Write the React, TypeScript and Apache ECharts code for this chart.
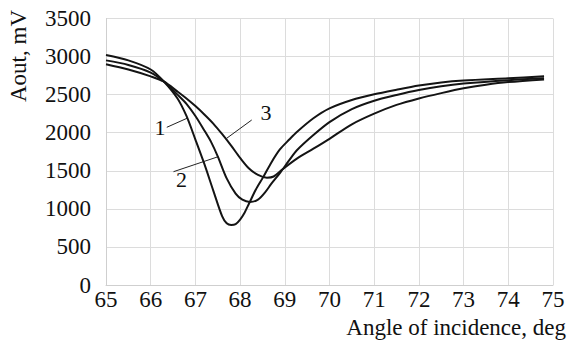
import React, { useEffect, useRef } from "react";
import * as echarts from "echarts";

// Angle of incidence (deg) and output signal (mV) for each curve
const angles1 = [65.0, 65.5, 66.0, 66.3, 66.6, 66.8, 67.0, 67.2, 67.4, 67.6, 67.7, 67.8, 67.9, 68.0, 68.1, 68.2, 68.35, 68.52, 68.7, 68.89, 69.1, 69.27, 69.64, 70.0, 70.5, 71.0, 71.5, 72.0, 72.5, 73.0, 74.0, 74.8];
const aout1 = [3020, 2950, 2830, 2670, 2450, 2220, 1910, 1590, 1240, 900, 810, 788, 800, 860, 950, 1070, 1250, 1420, 1610, 1780, 1910, 2010, 2190, 2320, 2430, 2505, 2565, 2620, 2660, 2685, 2715, 2740];

const angles2 = [65.0, 65.5, 66.0, 66.3, 66.6, 66.8, 67.0, 67.2, 67.35, 67.5, 67.7, 67.9, 68.05, 68.22, 68.4, 68.55, 68.7, 68.89, 69.1, 69.27, 69.64, 70.0, 70.5, 71.0, 71.5, 72.0, 72.5, 73.0, 74.0, 74.8];
const aout2 = [2950, 2890, 2790, 2670, 2500, 2380, 2220, 2030, 1880, 1690, 1400, 1200, 1120, 1090, 1120, 1210, 1330, 1470, 1640, 1770, 1970, 2140, 2310, 2420, 2495, 2560, 2610, 2645, 2690, 2715];

const angles3 = [65.0, 65.5, 66.0, 66.3, 66.6, 66.8, 67.0, 67.2, 67.4, 67.6, 67.8, 68.0, 68.2, 68.4, 68.6, 68.75, 68.95, 69.27, 69.64, 70.0, 70.5, 71.0, 71.5, 72.0, 72.5, 73.0, 73.5, 74.0, 74.8];
const aout3 = [2900, 2830, 2740, 2670, 2540, 2450, 2350, 2240, 2120, 1980, 1830, 1670, 1530, 1445, 1410, 1425, 1520, 1660, 1790, 1920, 2110, 2250, 2365, 2450, 2520, 2583, 2630, 2665, 2700];

const seriesNames = ["1", "2", "3"];
const xTicks = [65, 66, 67, 68, 69, 70, 71, 72, 73, 74, 75];
const yTicks = [0, 500, 1000, 1500, 2000, 2500, 3000, 3500];

// Curve labels: text anchor and leader line (in data coordinates)
const labelText = ["1", "2", "3"];
const labelPos = [[66.21, 2062], [66.69, 1379], [68.58, 2259]];
const leaderFrom = [[66.36, 2071], [66.51, 1488], [68.26, 2167]];
const leaderTo = [[66.81, 2189], [67.51, 1685], [67.70, 1927]];

const FONT = "serif";

export default function App() {
  const ref = useRef<HTMLDivElement>(null);
  useEffect(() => {
    if (!ref.current) return;
    const chart = echarts.init(ref.current, null, { renderer: "svg" });
    const zip = (xs: number[], ys: number[]) => xs.map((x, i) => [x, ys[i]]);
    const data = [zip(angles1, aout1), zip(angles2, aout2), zip(angles3, aout3)];
    chart.setOption({
      animation: false,
      backgroundColor: "#ffffff",
      textStyle: { fontFamily: FONT },
      grid: { left: 106, right: 15, top: 18.5, bottom: 56, containLabel: false },
      xAxis: {
        type: "value",
        min: xTicks[0],
        max: xTicks[xTicks.length - 1],
        interval: 1,
        axisLine: { show: true, lineStyle: { color: "#cfcfcf", width: 1 } },
        axisTick: { show: false },
        splitLine: { show: true, lineStyle: { color: "#dcdcdc", width: 1 } },
        axisLabel: {
          color: "#111",
          fontFamily: FONT,
          fontSize: 23,
          margin: 3,
          formatter: (v: number) => String(v),
        },
      },
      yAxis: {
        type: "value",
        min: yTicks[0],
        max: yTicks[yTicks.length - 1],
        interval: 500,
        axisLine: { show: true, lineStyle: { color: "#cfcfcf", width: 1 } },
        axisTick: { show: false },
        splitLine: { show: true, lineStyle: { color: "#dcdcdc", width: 1 } },
        axisLabel: {
          color: "#111",
          fontFamily: FONT,
          fontSize: 23,
          margin: 15,
          formatter: (v: number) => String(v),
        },
      },
      series: data.map((d, i) => ({
        name: seriesNames[i],
        type: "line",
        data: d,
        smooth: 0.3,
        showSymbol: false,
        symbol: "none",
        lineStyle: { color: "#141414", width: 2 },
      })),
    });

    const px = (p: number[]) => chart.convertToPixel({ gridIndex: 0 }, p) as number[];
    const graphics: any[] = [
      {
        type: "text",
        x: 18,
        y: 56,
        rotation: Math.PI / 2,
        style: {
          text: "Aout, mV",
          fontFamily: FONT,
          fontSize: 23,
          fill: "#111",
          textAlign: "center",
          textVerticalAlign: "middle",
        },
      },
      {
        type: "text",
        x: 566,
        y: 327,
        style: {
          text: "Angle of incidence, deg",
          fontFamily: FONT,
          fontSize: 23,
          fill: "#111",
          textAlign: "right",
          textVerticalAlign: "middle",
        },
      },
    ];
    labelText.forEach((t, i) => {
      const a = px(leaderFrom[i]);
      const b = px(leaderTo[i]);
      const c = px(labelPos[i]);
      graphics.push({
        type: "line",
        shape: { x1: a[0], y1: a[1], x2: b[0], y2: b[1] },
        style: { stroke: "#222", lineWidth: 1 },
      });
      graphics.push({
        type: "text",
        x: c[0],
        y: c[1],
        style: {
          text: t,
          fontFamily: FONT,
          fontSize: 22,
          fill: "#111",
          textAlign: "center",
          textVerticalAlign: "middle",
        },
      });
    });
    chart.setOption({ graphic: graphics });
    return () => chart.dispose();
  }, []);
  return (
    <div
      ref={ref}
      style={{ position: "fixed", left: 0, top: 0, width: 568, height: 341 }}
    />
  );
}
